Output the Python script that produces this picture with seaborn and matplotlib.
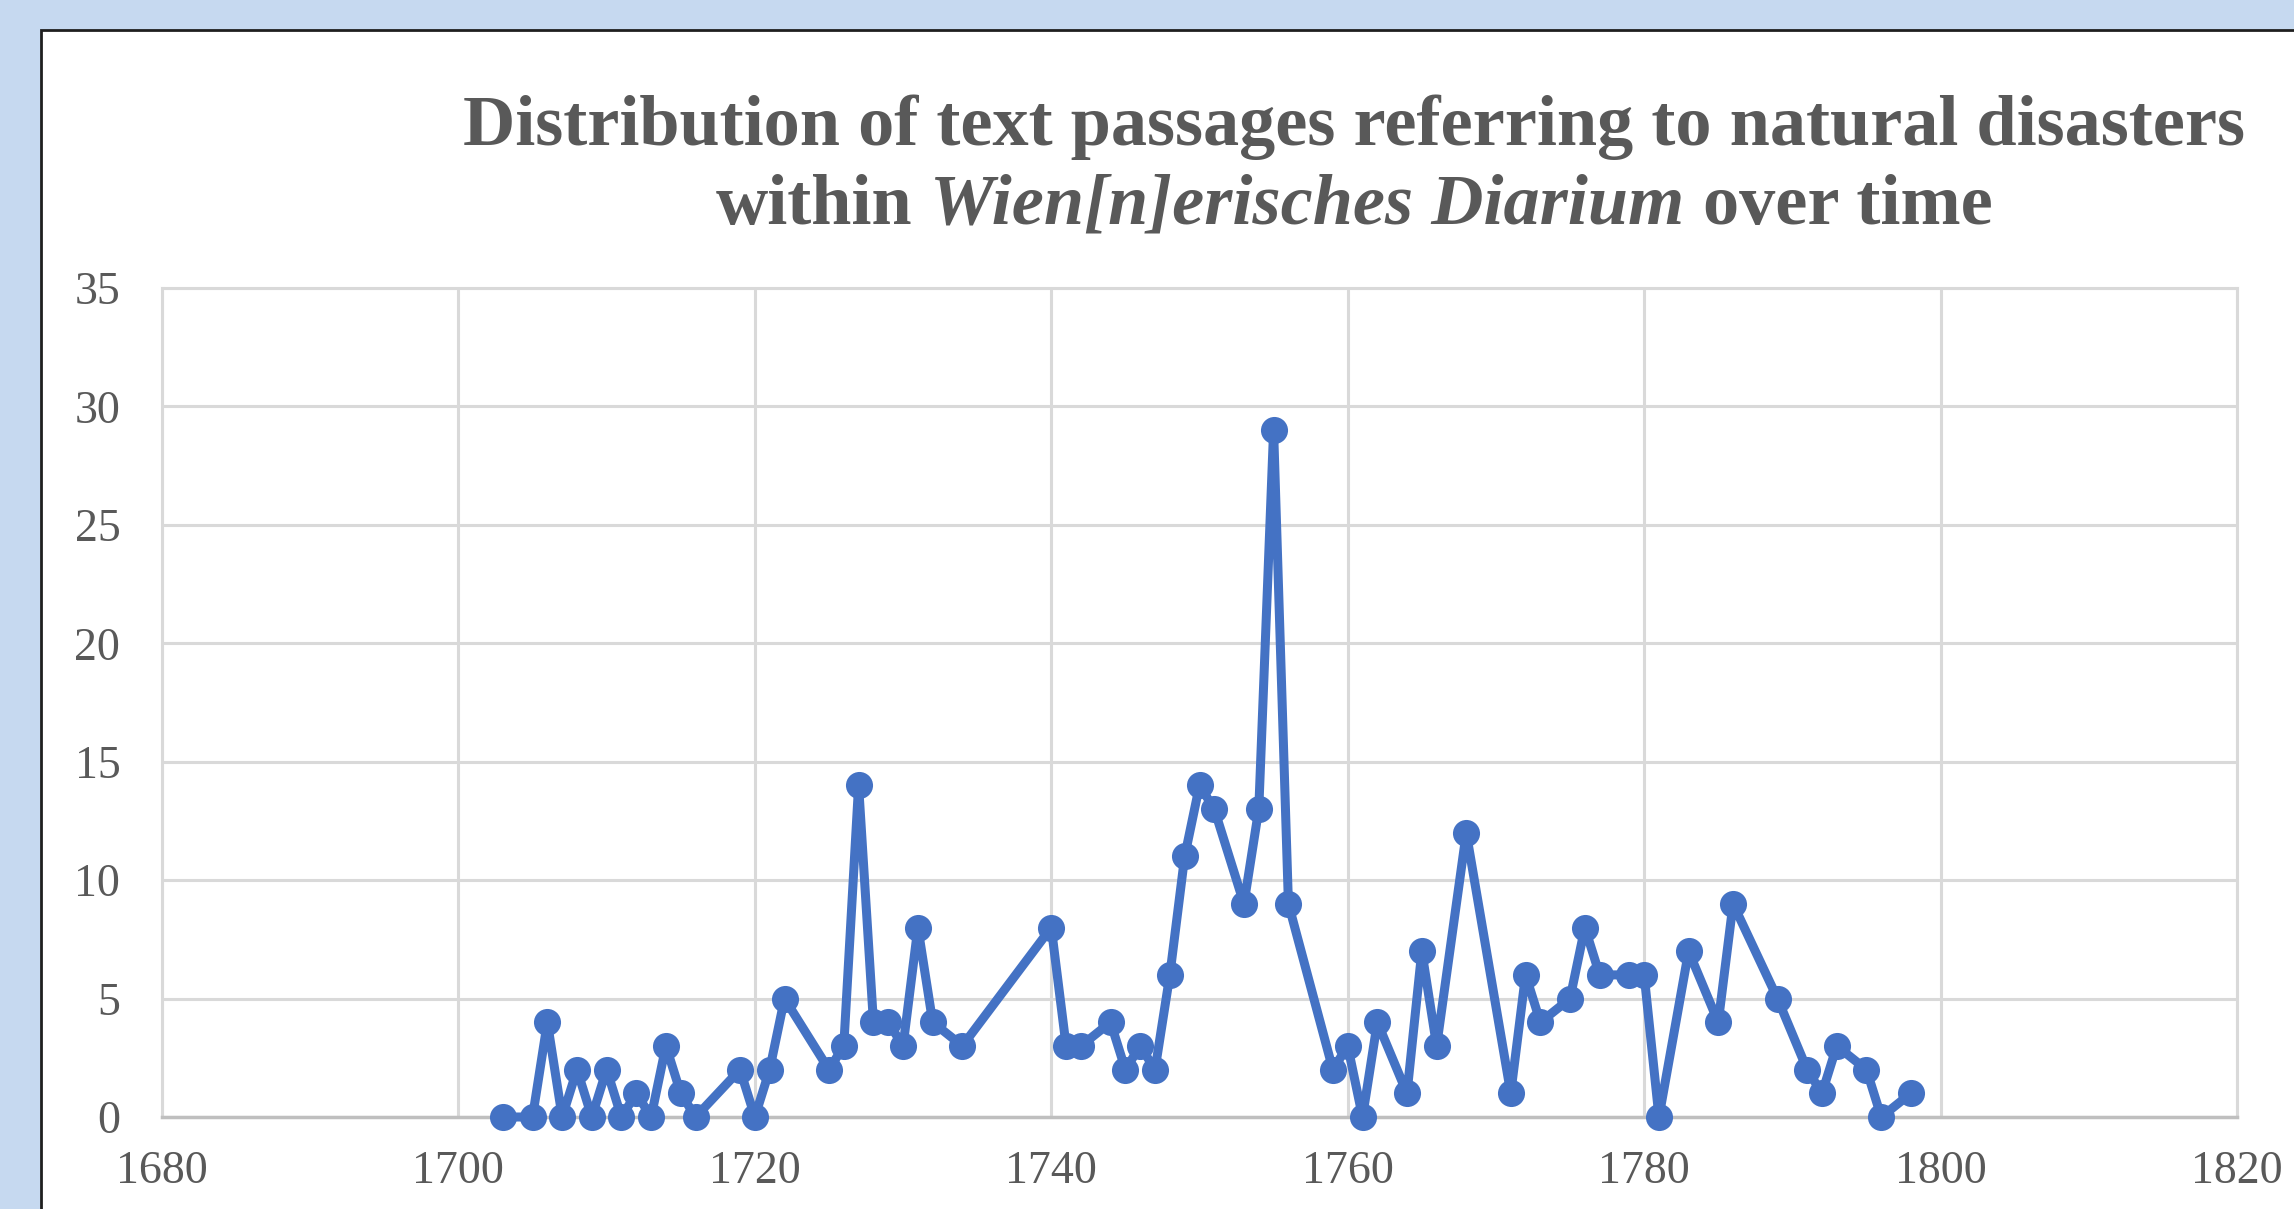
import matplotlib
matplotlib.use("Agg")
import matplotlib.pyplot as plt
import seaborn as sns
import pandas as pd
from matplotlib.patches import Rectangle

years = [1703, 1705, 1706, 1707, 1708, 1709, 1710, 1711, 1712, 1713,
         1714, 1715, 1716, 1719, 1720, 1721, 1722, 1725, 1726, 1727,
         1728, 1729, 1730, 1731, 1732, 1734, 1740, 1741, 1742, 1744,
         1745, 1746, 1747, 1748, 1749, 1750, 1751, 1753, 1754, 1755,
         1756, 1759, 1760, 1761, 1762, 1764, 1765, 1766, 1768, 1771,
         1772, 1773, 1775, 1776, 1777, 1779, 1780, 1781, 1783, 1785,
         1786, 1789, 1791, 1792, 1793, 1795, 1796, 1798]
counts = [0, 0, 4, 0, 2, 0, 2, 0, 1, 0,
          3, 1, 0, 2, 0, 2, 5, 2, 3, 14,
          4, 4, 3, 8, 4, 3, 8, 3, 3, 4,
          2, 3, 2, 6, 11, 14, 13, 9, 13, 29,
          9, 2, 3, 0, 4, 1, 7, 3, 12, 1,
          6, 4, 5, 8, 6, 6, 6, 0, 7, 4,
          9, 5, 2, 1, 3, 2, 0, 1]
x_ticks = [1680, 1700, 1720, 1740, 1760, 1780, 1800, 1820]
y_ticks = [0, 5, 10, 15, 20, 25, 30, 35]

title_line1 = "Distribution of text passages referring to natural disasters"
title_pre = "within"
title_ital = "Wien[n]erisches Diarium"
title_post = "over time"

sns.set_theme(style="white")
plt.rcParams['font.family'] = ['Liberation Serif', 'DejaVu Serif']

df = pd.DataFrame({"year": years, "count": counts})

W, H, DPI = 2294, 1209, 100
fig = plt.figure(figsize=(W / DPI, H / DPI), dpi=DPI)
fig.patch.set_facecolor("#C6D9F0")

# white chart area with dark border
fig.patches.append(Rectangle((41 / W, -0.05), 1.1, 1 - 30 / H + 0.05,
                             transform=fig.transFigure, facecolor="white",
                             edgecolor="#1F1F1F", linewidth=2.0, zorder=-1))

ax = fig.add_axes([162 / W, 1 - 1117 / H, (2237 - 162) / W, (1117 - 288) / H])
ax.set_zorder(2)
ax.set_facecolor("white")

sns.lineplot(data=df, x="year", y="count", ax=ax, color="#4472C4",
             linewidth=6.5, marker="o", markeredgewidth=0,
             zorder=3, clip_on=False)
for ln in ax.lines:
    ln.set_markersize(19.5)
    ln.set_markeredgewidth(0)
    ln.set_linewidth(6.5)

ax.set_xlim(1680, 1820)
ax.set_ylim(0, 35)
ax.set_xticks(x_ticks)
ax.set_yticks(y_ticks)
ax.set_xticklabels([str(v) for v in x_ticks])
ax.set_yticklabels([str(v) for v in y_ticks])
ax.grid(True, color="#D9D9D9", linewidth=2.2)
ax.set_axisbelow(True)
for s in ["top", "right", "left"]:
    ax.spines[s].set_color("#D9D9D9")
    ax.spines[s].set_linewidth(2.2)
ax.spines["bottom"].set_color("#BFBFBF")
ax.spines["bottom"].set_linewidth(2.5)
ax.tick_params(axis="both", length=0, labelsize=33, labelcolor="#595959")
ax.tick_params(axis="y", pad=30)
ax.tick_params(axis="x", pad=24)
ax.set_xlabel("")
ax.set_ylabel("")

# title
tcolor = "#595959"
tsize = 52
fig.text(1354 / W, 1 - 127 / H, title_line1, ha="center", va="center",
         fontsize=tsize, fontweight="bold", color=tcolor)

fig.canvas.draw()
renderer = fig.canvas.get_renderer()

def width_of(s, style):
    t = fig.text(0, 0, s, fontsize=tsize, fontweight="bold", style=style)
    w = t.get_window_extent(renderer).width
    t.remove()
    return w

sp = width_of("x x", "normal") - width_of("xx", "normal")
w1 = width_of(title_pre, "normal")
w2 = width_of(title_ital, "italic")
w3 = width_of(title_post, "normal")
total = w1 + sp + w2 + sp + w3
x0 = 1354 - total / 2
y2 = 1 - 206 / H
fig.text(x0 / W, y2, title_pre, ha="left", va="center", fontsize=tsize,
         fontweight="bold", color=tcolor)
fig.text((x0 + w1 + sp) / W, y2, title_ital, ha="left", va="center",
         fontsize=tsize, fontweight="bold", style="italic", color=tcolor)
fig.text((x0 + w1 + sp + w2 + sp) / W, y2, title_post, ha="left",
         va="center", fontsize=tsize, fontweight="bold", color=tcolor)

fig.savefig("out.png", dpi=DPI, facecolor=fig.get_facecolor())
